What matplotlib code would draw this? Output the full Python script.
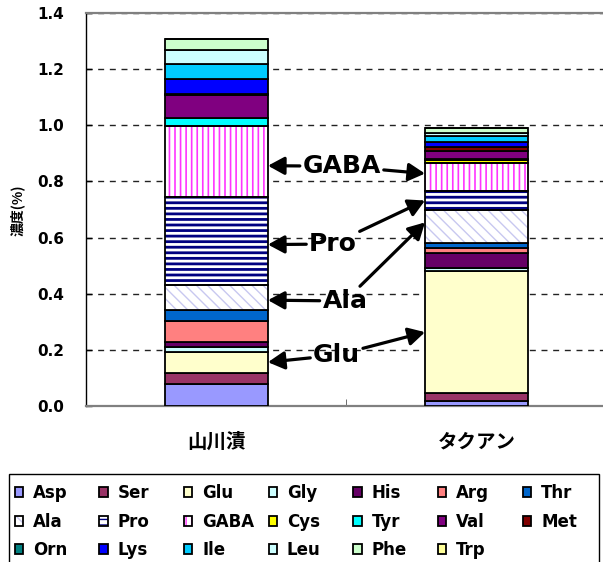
import numpy as np
import matplotlib
matplotlib.use('Agg')
import matplotlib.pyplot as plt
from matplotlib.patches import Rectangle
from matplotlib.legend_handler import HandlerTuple

plt.rcParams['font.family'] = ['DejaVu Sans', 'Noto Sans CJK JP']
plt.rcParams['font.weight'] = 'bold'

# data (concentration %)
categories = ['山川漬', 'タクアン']
names = ['Asp', 'Ser', 'Glu', 'Gly', 'His', 'Arg', 'Thr',
         'Ala', 'Pro', 'GABA', 'Cys', 'Tyr', 'Val', 'Met',
         'Orn', 'Lys', 'Ile', 'Leu', 'Phe', 'Trp']
yamakawa = [0.078, 0.038, 0.075, 0.020, 0.017, 0.073, 0.042,
            0.087, 0.316, 0.250, 0.000, 0.030, 0.081, 0.004,
            0.000, 0.053, 0.056, 0.048, 0.039, 0.000]
takuan = [0.019, 0.026, 0.436, 0.010, 0.055, 0.018, 0.018,
          0.117, 0.068, 0.097, 0.012, 0.004, 0.028, 0.013,
          0.000, 0.018, 0.021, 0.014, 0.018, 0.000]
colors = ['#9999FF', '#993366', '#FFFFCC', '#CCFFFF', '#660066', '#FF8080', '#0066CC',
          '#FFFFFF', '#FFFFFF', '#FFFFFF', '#FFFF00', '#00FFFF', '#800080', '#800000',
          '#008080', '#0000FF', '#00CCFF', '#CCFFFF', '#CCFFCC', '#FFFF99']
hatches = {'Ala': ('\\\\\\', '#C8C8F0', 1.0),
           'Pro': ('---', '#000080', 2.0),
           'GABA': ('|||', '#FF33FF', 1.2)}

# callout labels, where they sit, and the heights their arrows point at
callouts = ['GABA', 'Pro', 'Ala', 'Glu']
callout_xy = [(0.482, 0.854), (0.448, 0.577), (0.494, 0.374), (0.462, 0.181)]
tip_left = [0.856, 0.575, 0.377, 0.156]
tip_right = [0.828, 0.732, 0.654, 0.263]

vals = np.array([yamakawa, takuan])
bottoms = np.cumsum(vals, axis=1) - vals

fig = plt.figure(figsize=(6.03, 5.62), dpi=100)
ax = fig.add_axes([0.1434, 0.2776, 0.8624, 0.6993])

x = np.arange(len(categories))
w = 0.396
handles = []
for i, n in enumerate(names):
    if n in hatches:
        h, hc, hlw = hatches[n]
        with plt.rc_context({'hatch.linewidth': hlw}):
            b1 = ax.bar(x, vals[:, i], w, bottom=bottoms[:, i], color='white',
                        edgecolor=hc, hatch=h, linewidth=0, zorder=3)
        b2 = ax.bar(x, vals[:, i], w, bottom=bottoms[:, i], fill=False,
                    edgecolor='black', linewidth=1.3, zorder=4)
        handles.append((b1, b2))
    else:
        b = ax.bar(x, vals[:, i], w, bottom=bottoms[:, i], color=colors[i],
                   edgecolor='black', linewidth=1.3, zorder=3)
        handles.append(b)

ax.set_xlim(-0.5, 1.5)
ax.set_ylim(0, 1.4)
ax.set_yticks(np.arange(0, 1.41, 0.2))
ax.set_yticklabels(['%.1f' % v for v in np.arange(0, 1.41, 0.2)], fontsize=11)
ax.tick_params(axis='y', direction='in', length=4, width=1, pad=16)
ax.set_xticks(x)
ax.set_xticklabels(categories, fontsize=14, family=['Noto Sans CJK JP'])
ax.tick_params(axis='x', which='major', length=0, pad=19)
ax.set_xticks([0.5], minor=True)
ax.tick_params(axis='x', which='minor', direction='in', length=5, color='#555555')
ax.yaxis.grid(True, color='#222222', linestyle=(0, (4.3, 4.1)), linewidth=1)
ax.set_axisbelow(True)
for s in ['top', 'bottom']:
    ax.spines[s].set_color('#808080')
    ax.spines[s].set_linewidth(1.6)
ax.spines['right'].set_visible(False)
ax.spines['left'].set_linewidth(1)

for n, (tx, ty), yl, yr in zip(callouts, callout_xy, tip_left, tip_right):
    for j, (side, ytip) in enumerate([(1, yl), (-1, yr)]):
        ax.annotate(n, xy=(x[j] + side * w / 2, ytip), xytext=(tx, ty),
                    ha='center', va='center', fontsize=18,
                    color='black' if j == 0 else 'none', zorder=6,
                    arrowprops=dict(arrowstyle='-|>,head_length=0.55,head_width=0.3',
                                    color='black', lw=2.3, shrinkA=0, shrinkB=0))

fig.text(17 / 603, (562 - 210) / 562, '濃度(%)', rotation=90, ha='center',
         va='center', fontsize=10, family=['Noto Sans CJK JP'])

# legend: 7 columns x 3 rows, boxed
fig.patches.append(Rectangle((9 / 603, -0.01), 590 / 603, 0.1666, transform=fig.transFigure,
                             fill=False, edgecolor='black', linewidth=1))
row_y = [492.7, 521.7, 550]
for k, n in enumerate(names):
    r, c = divmod(k, 7)
    fig.legend([handles[k]], [n], loc='center left',
               bbox_to_anchor=((14.5 + 84.7 * c) / 603, (562 - row_y[r]) / 562),
               frameon=False, borderpad=0, borderaxespad=0, fontsize=12,
               handlelength=0.5, handleheight=0.5, handletextpad=0.6,
               handler_map={tuple: HandlerTuple(ndivide=1)})

fig.savefig('out.png', dpi=100)
